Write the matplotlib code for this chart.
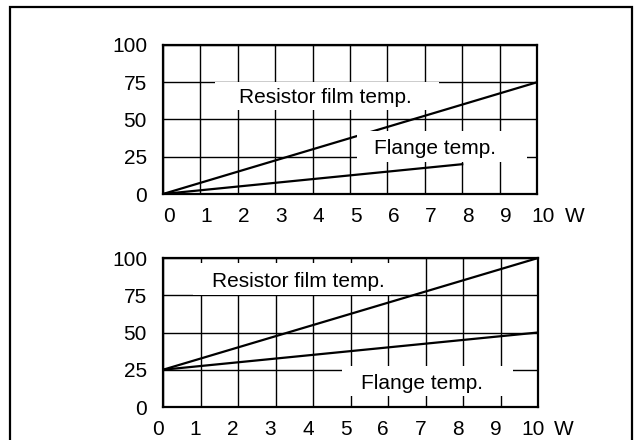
import matplotlib
matplotlib.use("Agg")
import matplotlib.pyplot as plt
import matplotlib.transforms as mtransforms
from matplotlib.patches import Rectangle

plt.rcParams['font.family'] = ['Liberation Sans', 'DejaVu Sans']

# data
power_ticks = [0, 1, 2, 3, 4, 5, 6, 7, 8, 9, 10]
temp_ticks = [0, 25, 50, 75, 100]

top_film_x = [0, 10]
top_film_y = [0, 75]
top_flange_x = [0, 8]
top_flange_y = [0, 20]

bot_film_x = [0, 10]
bot_film_y = [25, 100]
bot_flange_x = [0, 10]
bot_flange_y = [25, 50]

FS = 15

fig = plt.figure(figsize=(6.35, 4.4), dpi=100)

# outer frame
fig.patches.append(Rectangle((10 / 635, -0.05), 622 / 635, 1.05 - 7 / 440,
                             transform=fig.transFigure, fill=False,
                             edgecolor='black', linewidth=1.6))

ax_top = fig.add_axes([163 / 635, 1 - 194 / 440, 374 / 635, 149 / 440])
ax_bot = fig.add_axes([163 / 635, 1 - 407 / 440, 375 / 635, 149 / 440])


def setup(ax, xshift):
    ax.set_xlim(0, 10)
    ax.set_ylim(0, 100)
    ax.set_xticks(power_ticks)
    ax.set_yticks(temp_ticks)
    ax.grid(True, color='black', linewidth=1.0, zorder=1)
    ax.set_axisbelow(True)
    ax.tick_params(length=0, labelsize=FS)
    ax.tick_params(axis='x', pad=9)
    ax.tick_params(axis='y', pad=11.5)
    for s in ax.spines.values():
        s.set_linewidth(1.6)
        s.set_zorder(6)
    off = mtransforms.ScaledTranslation(xshift / 100, 0, fig.dpi_scale_trans)
    for lab in ax.get_xticklabels():
        lab.set_transform(lab.get_transform() + off)


setup(ax_top, 6)
setup(ax_bot, -5)

ax_top.plot(top_film_x, top_film_y, color='black', linewidth=1.6, zorder=2)
ax_top.plot(top_flange_x, top_flange_y, color='black', linewidth=1.6, zorder=2)
ax_bot.plot(bot_film_x, bot_film_y, color='black', linewidth=1.6, zorder=2)
ax_bot.plot(bot_flange_x, bot_flange_y, color='black', linewidth=1.6, zorder=2)

# white label boxes covering grid and lines
ax_top.add_patch(Rectangle((1.39, 56.4), 6.0, 18.8, facecolor='white',
                           edgecolor='none', zorder=3))
ax_top.add_patch(Rectangle((5.19, 21.8), 4.54, 20.5, facecolor='white',
                           edgecolor='none', zorder=3))
ax_bot.add_patch(Rectangle((0.8, 75.4), 5.27, 21.2, facecolor='white',
                           edgecolor='none', zorder=3))
ax_bot.add_patch(Rectangle((4.78, 7.4), 4.55, 20.1, facecolor='white',
                           edgecolor='none', zorder=3))

ax_top.text(4.35, 64.5, 'Resistor film temp.', fontsize=FS, ha='center',
            va='center', zorder=4)
ax_top.text(7.27, 30.5, 'Flange temp.', fontsize=FS, ha='center',
            va='center', zorder=4)
ax_bot.text(3.6, 84.0, 'Resistor film temp.', fontsize=FS, ha='center',
            va='center', zorder=4)
ax_bot.text(6.9, 16.0, 'Flange temp.', fontsize=FS, ha='center',
            va='center', zorder=4)

ax_top.text(1.102, -0.085, 'W', transform=ax_top.transAxes, fontsize=FS,
            ha='center', va='top')
ax_bot.text(1.07, -0.085, 'W', transform=ax_bot.transAxes, fontsize=FS,
            ha='center', va='top')

fig.savefig('out.png', dpi=100)
